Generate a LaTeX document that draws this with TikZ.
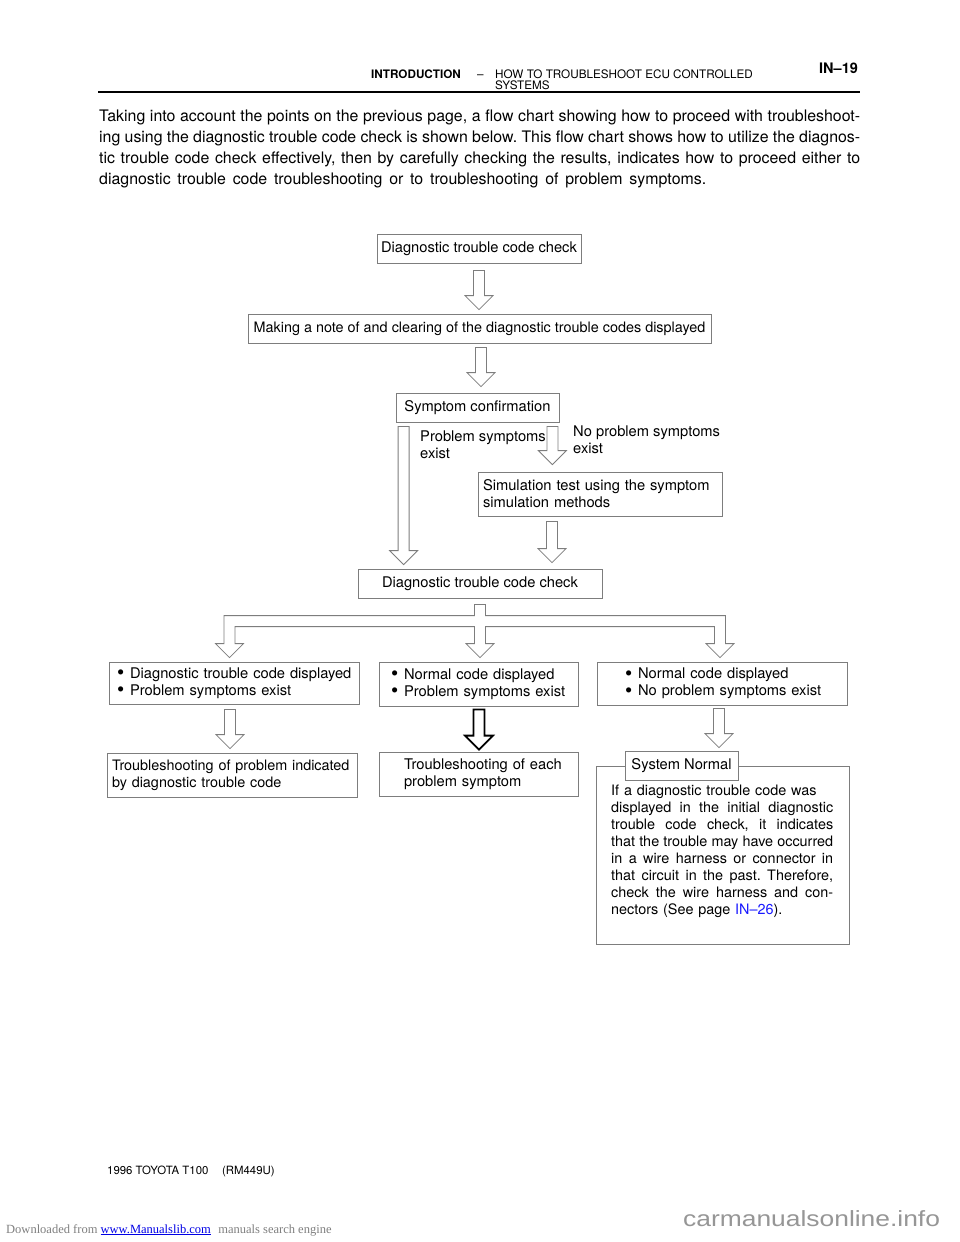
\documentclass[tikz,border=0pt]{standalone}
\usepackage{fontspec}
\setmainfont{TeX Gyre Heros}
\newfontfamily\serifwm{Liberation Serif}
\newfontfamily\sanswm{Liberation Sans}
\usepackage{graphicx}
\usetikzlibrary{calc}
\frenchspacing
\definecolor{boxgray}{RGB}{125,125,125}
\definecolor{wmgray}{RGB}{128,128,128}
\definecolor{wmlight}{RGB}{150,150,150}
\definecolor{linkblue}{RGB}{0,0,230}
\definecolor{refblue}{RGB}{25,25,255}
\newcommand{\bul}{\smash{\raisebox{-1.6pt}{\scalebox{1.4}{\textbullet}}}\hspace{0.4em}}
\newcommand{\jline}[2]{\makebox[#1][s]{\spaceskip=0pt\xspaceskip=0pt #2}}
\newcommand{\harrow}[3][]{%
  \draw[hollow,#1] let \p1=(#2), \p2=(#3) in
    (\x1-5.5pt,\y1) -- (\x1-5.5pt,\y2+14pt) -- (\x1-14pt,\y2+14pt) -- (\x1,\y2)
    -- (\x1+14pt,\y2+14pt) -- (\x1+5.5pt,\y2+14pt) -- (\x1+5.5pt,\y1) -- cycle;}
\begin{document}
\begin{tikzpicture}[x=1pt,y=-1pt,
  box/.style={draw=boxgray, line width=0.8pt, fill=white, inner sep=0pt, font=\fontsize{14.7}{16.8}\selectfont},
  hollow/.style={draw=boxgray, line width=0.8pt, fill=white, line join=miter},
  boldarrow/.style={draw=black, line width=1.8pt},
  lbl/.style={inner sep=0pt, font=\fontsize{14.7}{16.8}\selectfont, align=left},
  para/.style={inner sep=0pt, font=\fontsize{15.9}{21}\selectfont},
  hdr/.style={inner sep=0pt, font=\fontsize{11.7}{12}\selectfont},
]
\fill[white] (0,0) rectangle (960,1242);
\useasboundingbox (0,0) rectangle (960,1242);

% header
\node[hdr, anchor=base west, font=\fontsize{11.7}{12}\selectfont\bfseries] (h1) at (371,78) {INTRODUCTION};
\node[hdr, anchor=base west] (h2) at (477,78) {\textendash};
\node[hdr, anchor=base west] (h3) at (495,78) {HOW TO TROUBLESHOOT ECU CONTROLLED};
\node[hdr, anchor=base west] (h4) at (495,89) {SYSTEMS};
\node[hdr, anchor=base west, font=\fontsize{14.5}{16}\selectfont\bfseries] (h5) at (819,73) {IN\textendash19};
\coordinate (r1) at (98,92);
\coordinate (r2) at (860,92);
\draw[line width=1.6pt] (r1) -- (r2);

% paragraph
\node[para, anchor=base west] (p1) at (99,121.5) {\jline{761pt}{Taking into account the points on the previous page, a flow chart showing how to proceed with troubleshoot-}};
\node[para, anchor=base west] (p2) at (99,142.5) {\jline{761pt}{ing using the diagnostic trouble code check is shown below. This flow chart shows how to utilize the diagnos-}};
\node[para, anchor=base west] (p3) at (99,163.5) {\jline{761pt}{tic trouble code check effectively, then by carefully checking the results, indicates how to proceed either to}};
\node[para, anchor=base west] (p4) at (99,184.5) {\jline{607pt}{diagnostic trouble code troubleshooting or to troubleshooting of problem symptoms.}};

% boxes
\node[box, minimum width=204pt, minimum height=29pt] (b1) at (479,248.5) {Diagnostic trouble code check};
\node[box, minimum width=463pt, minimum height=29pt, font=\fontsize{14.4}{16.8}\selectfont] (b2) at (479.5,328.5) {Making a note of and clearing of the diagnostic trouble codes displayed};
\node[box, minimum width=163pt, minimum height=29pt] (b3) at (477.5,407.5) {Symptom confirmation};
\node[box, minimum width=244pt, minimum height=44pt, text width=234pt, align=left] (b4) at (600,494) {\mbox{Simulation test using the symptom}\\\mbox{simulation methods}};
\node[box, minimum width=244pt, minimum height=29pt] (b5) at (480,583.5) {Diagnostic trouble code check};
\node[box, minimum width=250pt, minimum height=42pt, text width=234pt, align=left] (b6) at (234,683) {\mbox{\bul Diagnostic trouble code displayed}\\\mbox{\bul Problem symptoms exist}};
\node[box, minimum width=199pt, minimum height=44pt, text width=175pt, align=left] (b7) at (478.5,684) {\mbox{\bul Normal code displayed}\\\mbox{\bul Problem symptoms exist}};
\node[box, minimum width=250pt, minimum height=43pt, text width=194pt, align=left] (b8) at (722,683.5) {\mbox{\bul Normal code displayed}\\\mbox{\bul No problem symptoms exist}};
\node[box, minimum width=250pt, minimum height=44pt, text width=240pt, align=left, font=\fontsize{14.4}{16.8}\selectfont] (b9) at (232,775) {\mbox{Troubleshooting of problem indicated}\\\mbox{by diagnostic trouble code}};
\node[box, minimum width=199pt, minimum height=44pt, text width=175pt, align=left] (b10) at (478.5,774) {\mbox{\hspace*{13pt}Troubleshooting of each}\\\mbox{\hspace*{13pt}problem symptom}};
\node[box, minimum width=253pt, minimum height=178pt] (b12) at (722.5,855) {};
\node[box, minimum width=113pt, minimum height=29pt] (b11) at (681.5,765.5) {System Normal};
\node[lbl, anchor=north west, text width=222pt, font=\fontsize{14.4}{17}\selectfont] (t12) at (611,784.6) {%
If a diagnostic trouble code was\\
\jline{222pt}{displayed in the initial diagnostic}\\
\jline{222pt}{trouble code check, it indicates}\\
\jline{222pt}{that the trouble may have occurred}\\
\jline{222pt}{in a wire harness or connector in}\\
\jline{222pt}{that circuit in the past. Therefore,}\\
\jline{222pt}{check the wire harness and con-}\\
nectors (See page \textcolor{refblue}{IN\textendash26}).};

% labels
\node[lbl, anchor=north west] (l1) at (420,430.6) {Problem symptoms\\exist};
\node[lbl, anchor=north west] (l2) at (573,425.6) {No problem symptoms\\exist};

% hollow arrows
\harrow{$(b1.south)+(0,7)$}{$(b2.north)+(0,-4)$}
\harrow{$(b2.south)+(1.5,4)$}{$(b3.north)+(0,-6)$}
\harrow{$(b3.south west)+(8,4)$}{$(b5.north)+(0,-4)$}
\harrow{$(b3.south east)+(-7,4)$}{$(b4.north)+(0,-7)$}
\harrow{$(b4.south)+(-48,5)$}{$(b5.north)+(0,-6)$}
\harrow{$(b6.south)+(-4,5)$}{$(b9.north)+(0,-4)$}
\harrow[boldarrow]{$(b7.south)+(0.5,3)$}{$(b10.north)+(0,-2)$}
\harrow{$(b8.south)+(-3,3)$}{$(b11.north)+(0,-3)$}

% branching arrow
\draw[hollow] let \p0=(b5.south), \p1=($(b6.north)+(-4.5,0)$), \p3=($(b8.north)+(-2,0)$) in
  (\x0-5.5pt,\y0-6pt) -- (\x0-5.5pt,\y1+46pt) -- (\x1-5.5pt,\y1+46pt) -- (\x1-5.5pt,\y1+18pt)
  -- (\x1-14pt,\y1+18pt) -- (\x1,\y1+4pt) -- (\x1+14pt,\y1+18pt) -- (\x1+5.5pt,\y1+18pt)
  -- (\x1+5.5pt,\y1+35pt) -- (\x0-5.5pt,\y1+35pt) -- (\x0-5.5pt,\y1+18pt)
  -- (\x0-14pt,\y1+18pt) -- (\x0,\y1+4pt) -- (\x0+14pt,\y1+18pt) -- (\x0+5.5pt,\y1+18pt)
  -- (\x0+5.5pt,\y1+35pt) -- (\x3-5.5pt,\y1+35pt) -- (\x3-5.5pt,\y1+18pt)
  -- (\x3-14pt,\y1+18pt) -- (\x3,\y1+4pt) -- (\x3+14pt,\y1+18pt) -- (\x3+5.5pt,\y1+18pt)
  -- (\x3+5.5pt,\y1+46pt) -- (\x0+5.5pt,\y1+46pt) -- (\x0+5.5pt,\y0-6pt) -- cycle;

% footer
\node[hdr, anchor=base west, font=\fontsize{11.4}{12}\selectfont] (f1) at (107,1174) {1996 TOYOTA T100\hspace{1.2em}(RM449U)};
\node[inner sep=0pt, anchor=base west, font=\serifwm\fontsize{12.5}{14}\selectfont, text=wmgray] (f2) at (6,1233) {Downloaded from \textcolor{linkblue}{\underline{www.Manualslib.com}}\hspace{0.6em}manuals search engine};
\node[inner sep=0pt, anchor=base west, font=\sanswm\fontsize{22}{24}\selectfont, text=wmlight] (f3) at (683,1226) {\scalebox{1.2}[1]{carmanualsonline.info}};
\end{tikzpicture}
\end{document}
